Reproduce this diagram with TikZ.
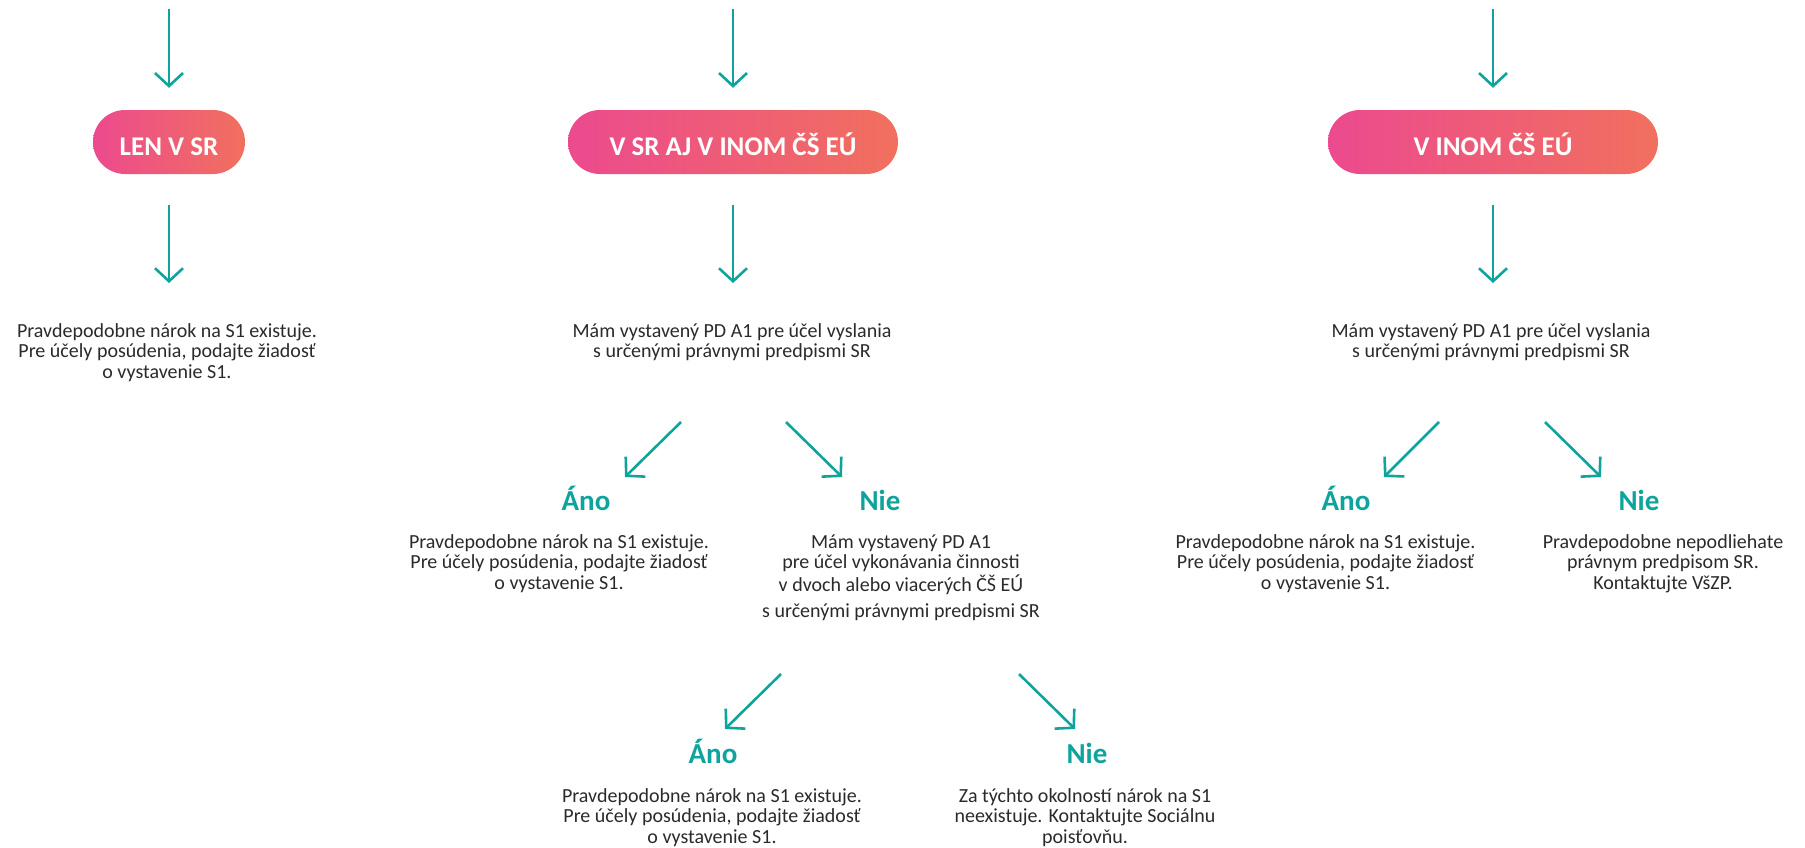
\documentclass[tikz,border=0pt]{standalone}
\usepackage{fontspec}
\setmainfont{Carlito}
\usetikzlibrary{arrows.meta}
\definecolor{teal1}{HTML}{0EA39D}
\definecolor{pinkL}{HTML}{EC4A8E}
\definecolor{pinkR}{HTML}{F1705E}
\definecolor{txt}{HTML}{2A2A2A}
\tikzset{
  arr/.style={draw=teal1, line width=2.6pt, -{Straight Barb[length=13pt,width=28pt]}},
  pill/.style={rounded corners=32pt, left color=pinkL, right color=pinkR, draw=none,
    minimum height=64pt, inner sep=0pt, text=white,
    font=\fontsize{27}{27}\selectfont\bfseries, text height=26pt, text depth=0pt},
  yn/.style={anchor=base, inner sep=0pt, text=teal1, font=\fontsize{29}{29}\selectfont\bfseries},
  body/.style={anchor=base, inner sep=0pt, text=txt, align=center,
    font=\fontsize{20}{20.8}\selectfont},
}
\begin{document}
\begin{tikzpicture}[x=1pt,y=-1pt]
\useasboundingbox (0,0) rectangle (1805,847);

% pills
\node[pill, minimum width=152pt] (p1) at (169,142) {LEN V SR};
\node[pill, minimum width=330pt] (p2) at (733,142) {V SR AJ V INOM ČŠ EÚ};
\node[pill, minimum width=330pt] (p3) at (1493,142) {V INOM ČŠ EÚ};

% top free arrow starts
\coordinate (t1) at (169,9);
\coordinate (t2) at (733,9);
\coordinate (t3) at (1493,9);
\draw[arr] (t1) -- ([yshift=22pt]p1.north);
\draw[arr] (t2) -- ([yshift=22pt]p2.north);
\draw[arr] (t3) -- ([yshift=22pt]p3.north);

% first texts (anchor = baseline of last line)
\node[body] (q1) at (167,378.6) {Pravdepodobne nárok na S1 existuje.\\Pre účely posúdenia, podajte žiadosť\\o vystavenie S1.};
\node[body] (q2) at (732,357.8) {Mám vystavený PD A1 pre účel vyslania\\s určenými právnymi predpismi SR};
\node[body] (q3) at (1491,357.8) {Mám vystavený PD A1 pre účel vyslania\\s určenými právnymi predpismi SR};

\coordinate (e1) at (169,283);
\coordinate (e2) at (733,283);
\coordinate (e3) at (1493,283);
\draw[arr] ([yshift=-31pt]p1.south) -- (e1);
\draw[arr] ([yshift=-31pt]p2.south) -- (e2);
\draw[arr] ([yshift=-31pt]p3.south) -- (e3);

% middle branch
\node[yn] (a2) at (586,510) {Áno};
\node[yn] (n2) at (880,510) {Nie};
\node[body] (a2t) at (559,589.6) {Pravdepodobne nárok na S1 existuje.\\Pre účely posúdenia, podajte žiadosť\\o vystavenie S1.};
\node[body] (n2t) at (901,617.4) {Mám vystavený PD A1\\pre účel vykonávania činnosti\\[1.5pt]v dvoch alebo viacerých ČŠ EÚ\\[5.5pt]s určenými právnymi predpismi SR};
\coordinate (ma1) at (681,422); \coordinate (mb1) at (625,477);
\coordinate (ma2) at (786,422); \coordinate (mb2) at (842,477);
\draw[arr] (ma1) -- (mb1);
\draw[arr] (ma2) -- (mb2);

% right branch
\node[yn] (a3) at (1346,510) {Áno};
\node[yn] (n3) at (1639,510) {Nie};
\node[body] (a3t) at (1325.5,589.6) {Pravdepodobne nárok na S1 existuje.\\Pre účely posúdenia, podajte žiadosť\\o vystavenie S1.};
\node[body] (n3t) at (1663,589.6) {Pravdepodobne nepodliehate\\právnym predpisom SR.\\Kontaktujte VšZP.};
\coordinate (ra1) at (1439,422); \coordinate (rb1) at (1384,477);
\coordinate (ra2) at (1545,422); \coordinate (rb2) at (1601,477);
\draw[arr] (ra1) -- (rb1);
\draw[arr] (ra2) -- (rb2);

% bottom branch
\node[yn] (a4) at (713,763) {Áno};
\node[yn] (n4) at (1087,763) {Nie};
\node[body] (a4t) at (712,843.6) {Pravdepodobne nárok na S1 existuje.\\Pre účely posúdenia, podajte žiadosť\\o vystavenie S1.};
\node[body] (n4t) at (1085,843.6) {Za týchto okolností nárok na S1\\neexistuje. Kontaktujte Sociálnu\\poisťovňu.};
\coordinate (ba1) at (781,674); \coordinate (bb1) at (725,729);
\coordinate (ba2) at (1019,674); \coordinate (bb2) at (1075,729);
\draw[arr] (ba1) -- (bb1);
\draw[arr] (ba2) -- (bb2);
\end{tikzpicture}
\end{document}
